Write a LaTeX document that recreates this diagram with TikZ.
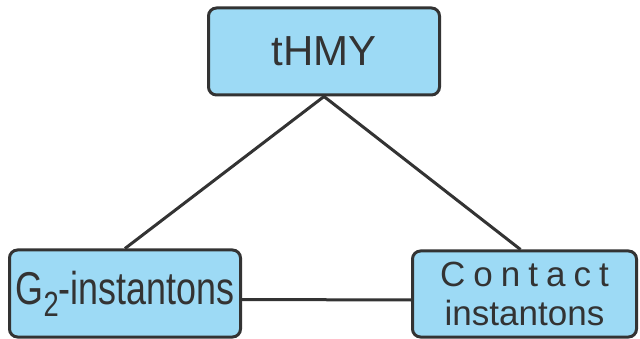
\documentclass[tikz,border=0pt]{standalone}
\usepackage{fontspec}
\setmainfont{Liberation Sans}
\usepackage{tikz}
\usetikzlibrary{calc}

\definecolor{boxblue}{RGB}{157,218,245}
\definecolor{darkline}{RGB}{51,51,51}

\begin{document}
\begin{tikzpicture}[x=1pt, y=1pt, line width=3pt,
    box/.style={draw=darkline, fill=boxblue, rounded corners=8pt, text=darkline,
      inner sep=0pt, line width=3pt}]
        \useasboundingbox (0,0) rectangle (640,-339);

        % Boxes
        \node[box, minimum width=231pt, minimum height=87pt,
          font=\fontsize{42}{50}\selectfont] (thmy) at (324,-51.5) {tHMY};
        \node[box, minimum width=231pt, minimum height=87pt,
          font=\fontsize{46}{50}\selectfont] (gtwo) at (125,-293.5)
          {\scalebox{0.78}[1]{G\raisebox{-12pt}{\fontsize{35}{35}\selectfont 2}-instantons}};
        \node[box, minimum width=224pt, minimum height=86pt, align=center,
          font=\fontsize{35}{39}\selectfont] (contact) at (524.5,-294)
          {{\addfontfeature{LetterSpace=23}Contact}\\instantons};

        % Connectors
        \draw[darkline] (thmy.south) -- (gtwo.north);
        \draw[darkline] (thmy.south) -- ($(contact.north)+(-4,0)$);
        \draw[darkline] ($(gtwo.east)+(0,-6)$) -- ($(contact.west)+(0,-6)$);

      \end{tikzpicture}
\end{document}
